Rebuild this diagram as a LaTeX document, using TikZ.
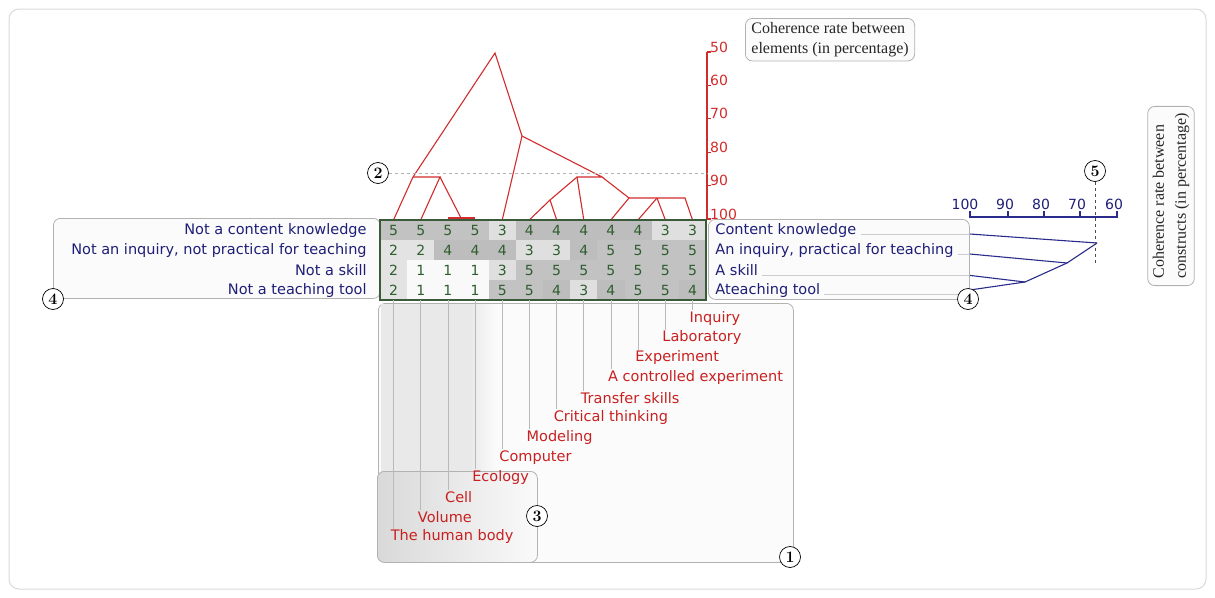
\documentclass[tikz,border=0pt]{standalone}
\usepackage{fontspec}
\setsansfont{DejaVu Sans}
\newfontfamily\capfont{Liberation Serif}

\definecolor{dendred}{HTML}{D22B2B}
\definecolor{elemred}{HTML}{C82020}
\definecolor{constblue}{HTML}{1E1E78}
\definecolor{constline}{HTML}{2B2B8C}
\definecolor{cellgreen}{HTML}{2E5E2E}
\definecolor{gridgreen}{HTML}{3A5A3A}
\colorlet{val1}{gray!5}
\colorlet{val2}{gray!22}
\colorlet{val3}{gray!25}
\colorlet{val4}{gray!52}
\colorlet{val5}{gray!48}

\begin{document}
\begin{tikzpicture}[
    x=1pt, y=-1pt,
    cell/.style={rectangle, minimum width=27.17pt, minimum height=20pt, inner sep=0pt, text=cellgreen, font=\sffamily\fontsize{14}{16}\selectfont},
    constr/.style={inner sep=1pt, text=constblue, font=\sffamily\fontsize{14.5}{17}\selectfont},
    elem/.style={anchor=west, inner sep=1pt, text=elemred, font=\sffamily\fontsize{14.5}{17}\selectfont},
    callbox/.style={rectangle, rounded corners=7pt, draw=gray!60, fill=gray!3, line width=0.8pt},
    badge/.style={circle, draw, fill=white, inner sep=0pt, minimum size=21pt, line width=0.7pt, font=\rmfamily\bfseries\fontsize{16}{16}\selectfont},
    dend/.style={dendred, line width=1.1pt},
    cdend/.style={constline, line width=1.1pt},
    stem/.style={gray!55, line width=0.6pt},
    leader/.style={gray!40, line width=0.8pt},
    scalelab/.style={inner sep=0pt, font=\sffamily\fontsize{14}{16}\selectfont}
]
\useasboundingbox (0,0) rectangle (1215,597);
\draw[gray!30, rounded corners=10pt, line width=1pt] (9,9) rectangle (1206,589);

% Boxes behind the grid
\node[callbox, anchor=north west, minimum width=327pt, minimum height=80pt] (nbox) at (53,218) {};
\node[callbox, anchor=north west, minimum width=261pt, minimum height=80pt] (rbox) at (708,219) {};
\node[callbox, anchor=north west, minimum width=415pt, minimum height=259pt] (ebox) at (378,303) {};
\fill[gray!17] (381,304) rectangle (470,560);
\shade[left color=gray!17, right color=gray!3] (470,304) rectangle (496,560);
\shade[left color=gray!30, right color=gray!4, rounded corners=7pt] (377,471) rectangle (537,562);
\node[rectangle, rounded corners=7pt, draw=gray!60, line width=0.8pt, anchor=north west, minimum width=160pt, minimum height=91pt] (hbox) at (377,471) {};

% Grid of ratings
\foreach \row [count=\i] in {{5,5,5,5,3,4,4,4,4,4,3,3},{2,2,4,4,4,3,3,4,5,5,5,5},{2,1,1,1,3,5,5,5,5,5,5,5},{2,1,1,1,5,5,4,3,4,5,5,4}}
  \foreach \v [count=\j] in \row
    \node[cell, fill=val\v] (c-\i-\j) at ({380+27.17*(\j-0.5)}, {220+20*(\i-0.5)}) {\v};

% Dendrogram of elements
\coordinate (d-top) at (495,53);
\coordinate (d-l) at (413,177);
\coordinate (d-lr) at (440,177);
\coordinate (d-p) at (461,218);
\coordinate (d-m) at (522,136);
\coordinate (d-r) at (602,177);
\coordinate (d-rl) at (577,177);
\coordinate (d-a) at (550,200);
\coordinate (d-s) at (629,198);
\coordinate (d-f) at (657,198);
\coordinate (d-sr) at (685,198);
\draw[dend] (c-1-1.north) -- (d-l) -- (d-top) -- (d-m) -- (c-1-5.north);
\draw[dend] (d-l) -- (d-lr) -- (c-1-2.north);
\draw[dend] (d-lr) -- (d-p);
\draw[dendred, line width=2.4pt] ([yshift=1.5pt]c-1-3.north) -- ([yshift=1.5pt]c-1-4.north);
\draw[dend] (d-m) -- (d-r) -- (d-rl) -- (d-a) -- (c-1-6.north);
\draw[dend] (d-a) -- (c-1-7.north);
\draw[dend] (d-rl) -- (c-1-8.north);
\draw[dend] (d-r) -- (d-s) -- (c-1-9.north);
\draw[dend] (d-s) -- (d-sr) -- (c-1-12.north);
\draw[dend] (d-f) -- (c-1-10.north);
\draw[dend] (d-f) -- (c-1-11.north);

\draw[gridgreen, line width=1.6pt] (c-1-1.north west) rectangle (c-4-12.south east);

% Constructs, left and right poles
\node[constr, anchor=east] (nl-1) at ([xshift=-12pt]c-1-1.west) {Not a content knowledge};
\node[constr, anchor=east] (nl-2) at ([xshift=-12pt]c-2-1.west) {Not an inquiry, not practical for teaching};
\node[constr, anchor=east] (nl-3) at ([xshift=-12pt]c-3-1.west) {Not a skill};
\node[constr, anchor=east] (nl-4) at ([xshift=-12pt]c-4-1.west) {Not a teaching tool};

\node[constr, anchor=west] (pl-1) at ([xshift=8pt]c-1-12.east) {Content knowledge};
\node[constr, anchor=west] (pl-2) at ([xshift=8pt]c-2-12.east) {An inquiry, practical for teaching};
\node[constr, anchor=west] (pl-3) at ([xshift=8pt]c-3-12.east) {A skill};
\node[constr, anchor=west] (pl-4) at ([xshift=8pt]c-4-12.east) {Ateaching tool};

\foreach \i in {1,...,4}
  \draw[leader] ([xshift=3pt]pl-\i.base east) -- (rbox.east |- pl-\i.base);

% Elements
\foreach \lab [count=\j] in {The human body, Volume, Cell, Ecology, Computer, Modeling, Critical thinking, Transfer skills, A controlled experiment, Experiment, Laboratory, Inquiry}
  \node[elem] (el-\j) at ({380+27.17*(\j-0.5)-4}, {318+19.9*(12-\j)}) {\lab};
\foreach \j in {1,...,12}
  \draw[stem] (c-4-\j.south) -- (c-4-\j.south |- el-\j.north);

% Dendrogram of constructs
\coordinate (r-a) at (1025,282);
\coordinate (r-b) at (1067,263);
\coordinate (r-c) at (1097,243);
\draw[cdend] (rbox.east |- pl-1.base) -- (r-c);
\draw[cdend] (rbox.east |- pl-2.base) -- (r-b);
\draw[cdend] (rbox.east |- pl-3.base) -- (r-a);
\draw[cdend] (rbox.east |- pl-4.center) -- (r-a) -- (r-b) -- (r-c);

% Scale of constructs
\draw[cdend] (970,211) -- (970,217) -- (1117,217) -- (1117,211);
\foreach \x in {1008,1044,1080}
  \draw[cdend] (\x,217) -- (\x,211);
\foreach \v/\x in {100/965, 90/1005, 80/1041, 70/1077, 60/1114}
  \node[scalelab, text=constblue] (rs-\v) at (\x,204) {\v};

% Scale of elements
\coordinate (ax-top) at (707,52);
\coordinate (ax-bot) at (707,219);
\draw[dend] (ax-top) -- (ax-bot);
\foreach \v [count=\k from 0] in {50,60,70,80,90,100} {
  \draw[dend] (707,{52+33.4*\k}) -- (711,{52+33.4*\k});
  \node[scalelab, text=dendred, anchor=base west] (es-\v) at (710,{52+33.4*\k}) {\v};
}

% Captions
\node[callbox, anchor=north west, align=left, inner xsep=6pt, inner ysep=4pt, text=black!85, font=\capfont\fontsize{16}{20}\selectfont] (eltitle) at (745,18) {Coherence rate between\\elements (in percentage)};
\node[callbox, rotate=90, align=left, inner xsep=7pt, inner ysep=5pt, text=black!85, font=\capfont\fontsize{16}{22}\selectfont] (crtitle) at (1171,196) {Coherence rate between\\constructs (in percentage)};

% Numbered markers
\node[badge] (b-1) at (790,557) {1};
\node[badge] (b-2) at (378,173) {2};
\node[badge] (b-3) at (537,516) {3};
\node[badge] (b-4l) at (53,299) {4};
\node[badge] (b-4r) at (968,299) {4};
\node[badge] (b-5) at (1095,171) {5};
\draw[dashed, gray!60, line width=0.8pt] (b-2.east) -- (b-2.east -| ax-top);
\draw[dashed, black!70, line width=0.8pt] (b-5.south) -- (1095,263);

\end{tikzpicture}
\end{document}
